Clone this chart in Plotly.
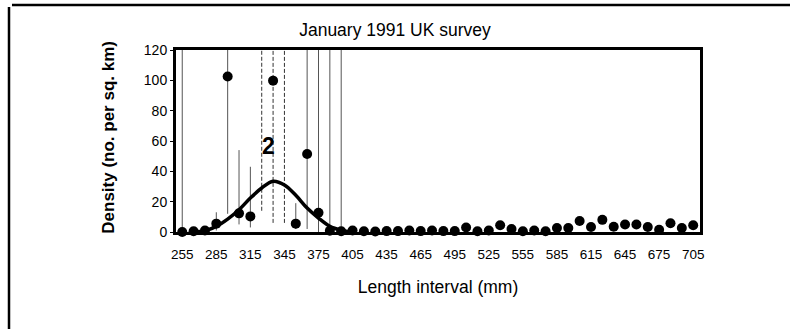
import plotly.graph_objects as go

# length classes (mm) and survey densities
lengths = list(range(255, 706, 10))
density = [
    0, 0.5, 1, 5.5, 102.5, 12.3, 10.3, None, 99.8, None,
    5.5, 51.4, 12.7, 0.8, 0.5, 1, 0.5, 0.3, 0.6, 0.6,
    1, 0.6, 1, 0.6, 0.6, 3, 0.5, 1, 4.5, 2,
    0.5, 1, 0.5, 2.6, 2.6, 7.3, 3.3, 8, 3.5, 5,
    5, 3.3, 1.5, 5.8, 2.6, 4.5,
]

# confidence ranges (upper values above 120 run off the top of the plot)
range_len = [255, 275, 285, 295, 305, 315, 325, 335, 345, 355, 365, 375, 385, 395]
range_lo = [0, 0, 1, 12, 5, 3, 14, 6, 6, 2, 2, 0, 0, 0]
range_hi = [130, 3, 13, 130, 54, 43, 130, 130, 130, 19, 130, 130, 130, 130]

# fitted cohort 2 component
fit_len = [265, 275, 285, 295, 305, 315, 325, 335, 345, 355, 365, 375, 385, 395, 405]
fit_val = [0, 0.8, 3.7, 8.5, 14.7, 22.4, 29, 33.5, 31, 24.2, 15.8, 9.2, 3.7, 1.2, 0]

x_ticks = list(range(255, 706, 30))
y_ticks = [0, 20, 40, 60, 80, 100, 120]

FONT = 'Liberation Sans, Arial, sans-serif'
DASHED = {325, 335, 345}


def segments(keep):
    xs, ys = [], []
    for x, lo, hi in zip(range_len, range_lo, range_hi):
        if keep(x):
            xs += [x, x, None]
            ys += [lo, hi, None]
    return xs, ys


fig = go.Figure()

sx, sy = segments(lambda x: x not in DASHED)
fig.add_trace(go.Scatter(x=sx, y=sy, mode='lines',
                         line={'color': '#555', 'width': 1}, hoverinfo='none'))
dx, dy = segments(lambda x: x in DASHED)
fig.add_trace(go.Scatter(x=dx, y=dy, mode='lines',
                         line={'color': '#333', 'width': 1, 'dash': '4px,2px'},
                         hoverinfo='none'))

fig.add_trace(go.Scatter(x=fit_len, y=fit_val, mode='lines', line_shape='spline',
                         line={'color': 'black', 'width': 3.5}))

fig.add_trace(go.Scatter(x=lengths, y=density, mode='markers', cliponaxis=False,
                         marker={'color': 'black', 'size': 10}))

fig.add_annotation(x=331, y=57, text='<b>2</b>', showarrow=False,
                   font={'family': FONT, 'size': 23, 'color': 'black'})
fig.add_annotation(x=-0.151, y=0.52, xref='paper', yref='paper', textangle=-90,
                   text='<b>Density (no. per sq. km)</b>', showarrow=False,
                   font={'family': FONT, 'size': 17, 'color': 'black'})

# outer page frame
fig.add_shape(type='line', xref='paper', yref='paper', x0=-0.313, x1=1.172,
              y0=1.247, y1=1.247, line={'color': 'black', 'width': 2.5})
fig.add_shape(type='line', xref='paper', yref='paper', x0=-0.3187, x1=-0.3187,
              y0=1.236, y1=-0.54, line={'color': 'black', 'width': 2.5})

fig.update_layout(
    width=790,
    height=329,
    margin={'l': 176, 'r': 90, 't': 50, 'b': 97},
    paper_bgcolor='white',
    plot_bgcolor='white',
    showlegend=False,
    font={'family': FONT, 'color': 'black'},
    title={'text': 'January 1991 UK survey', 'x': 0.5, 'xanchor': 'center',
           'y': 0.91, 'yanchor': 'middle', 'font': {'size': 17.5}},
)
fig.update_xaxes(
    range=[249.5, 711], tickvals=x_ticks, showgrid=False, zeroline=False,
    showline=True, mirror=True, linecolor='black', linewidth=3,
    ticks='', ticklabelstandoff=8, tickfont={'size': 13.5},
    title={'text': 'Length interval (mm)', 'font': {'size': 17.5}, 'standoff': 20},
)
fig.update_yaxes(
    range=[0, 120], tickvals=y_ticks, showgrid=False, zeroline=False,
    showline=True, mirror=True, linecolor='black', linewidth=3,
    ticks='outside', ticklen=3, tickcolor='black', tickfont={'size': 14},
)

fig.write_html('out.html', config={'displayModeBar': False},
               post_script="document.body.style.margin='0';")
